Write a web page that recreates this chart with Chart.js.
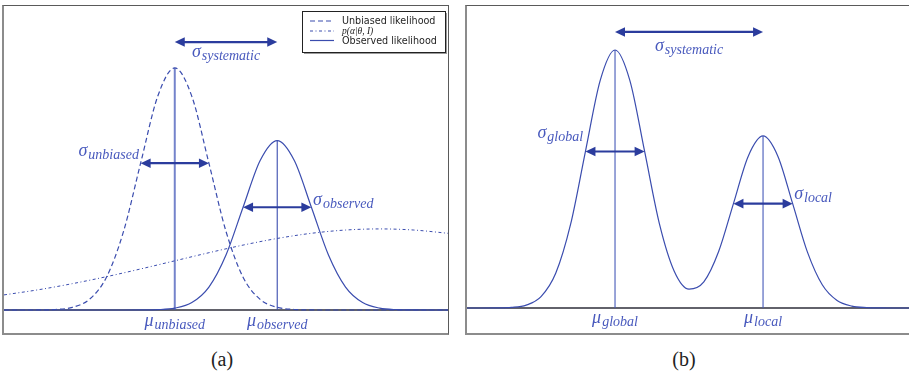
<!DOCTYPE html>
<html>
<head>
<meta charset="utf-8">
<script src="https://cdn.jsdelivr.net/npm/chart.js@4"></script>
<style>
  html, body { margin: 0; padding: 0; background: #fff; overflow: hidden; }
  body { width: 909px; height: 376px; position: relative; }
  .frame {
    position: absolute;
    border-top: 1px solid #5a5a5a;
    border-right: 1px solid #5a5a5a;
    border-left: 2px solid #8c8c8c;
    border-bottom: 2px solid #8c8c8c;
  }
  #frameA { left: 2px; top: 5px; width: 444px; height: 327px; }
  #frameB { left: 465px; top: 5px; width: 442px; height: 327px; }
  canvas { display: block; }
  .caption {
    position: absolute; top: 348px; width: 80px; text-align: center;
    font-family: "Liberation Serif", "Times New Roman", "DejaVu Serif", serif; font-size: 20px; color: #222;
  }
</style>
</head>
<body>
<div class="frame" id="frameA"><canvas id="chartA" width="444" height="327"></canvas></div>
<div class="frame" id="frameB"><canvas id="chartB" width="442" height="327"></canvas></div>
<div class="caption" style="left:182px">(a)</div>
<div class="caption" style="left:644px">(b)</div>
<script>
// ---- Panel (a): unbiased vs observed likelihood, with the prior ----
const xGridA = [0, 0.5, 1, 1.5, 2, 2.5, 3, 3.5, 4, 4.5, 5, 5.5, 6, 6.5, 7, 7.5, 8, 8.5, 9, 9.5, 10, 10.5, 11, 11.5, 12, 12.5, 13];
const unbiasedLikelihood = [0, 0, 0.0003, 0.0022, 0.0111, 0.0439, 0.1353, 0.3247, 0.6065, 0.8825, 1, 0.8825, 0.6065, 0.3247, 0.1353, 0.0439, 0.0111, 0.0022, 0.0003, 0, 0, 0, 0, 0, 0, 0, 0];
const observedLikelihood = [0, 0, 0, 0, 0, 0, 0, 0, 0.0002, 0.0015, 0.0078, 0.0307, 0.0947, 0.2273, 0.4246, 0.6178, 0.70, 0.6178, 0.4246, 0.2273, 0.0947, 0.0307, 0.0078, 0.0015, 0.0002, 0, 0];
const priorX = [0, 1, 2, 3, 4, 5, 6, 7, 8, 9, 10, 11, 12, 13];
const priorDensity = [0.0624, 0.0835, 0.1088, 0.1377, 0.1696, 0.2032, 0.2367, 0.2682, 0.2956, 0.3169, 0.3304, 0.335, 0.3304, 0.3169];
const meansA = [5, 8];
const peaksA = [1, 0.70];
const meanLabelsA = ['unbiased', 'observed'];
const legendLabelsA = ['Unbiased likelihood', 'p(\u03B1|\u03B8, I)', 'Observed likelihood'];

// ---- Panel (b): global and local peaks of one likelihood ----
const xGridB = [0, 0.5, 1, 1.5, 2, 2.5, 3, 3.5, 4, 4.5, 5, 5.5, 6, 6.5, 7, 7.5, 8, 8.5, 9, 9.5, 10, 10.5, 11, 11.5, 12, 12.5, 13, 13.5, 14, 14.5, 15];
const combinedLikelihood = [0, 0, 0.0003, 0.0022, 0.0111, 0.0439, 0.1353, 0.3247, 0.6065, 0.8825, 1, 0.8825, 0.6067, 0.3262, 0.1427, 0.0732, 0.1013, 0.2188, 0.4048, 0.5886, 0.667, 0.5886, 0.4045, 0.2166, 0.0902, 0.0293, 0.0074, 0.0015, 0.0002, 0, 0];
const meansB = [5, 10];
const peaksB = [1, 0.667];
const meanLabelsB = ['global', 'local'];

// Width arrows: [from, to, height]
const arrowsA = [[5, 8, 1.107], [4, 6, 0.6065], [7, 9, 0.4246]];
const arrowsB = [[5, 10, 1.07], [4, 6, 0.6065], [9, 11, 0.4045]];
// Sigma labels: [subscript, x, y, align]
const sigmaLabelsA = [['systematic', 6.5, 1.045, 'center'], ['unbiased', 3.95, 0.636, 'right'], ['observed', 9.05, 0.434, 'left']];
const sigmaLabelsB = [['systematic', 7.5, 0.996, 'center'], ['global', 3.92, 0.659, 'right'], ['local', 11.05, 0.4225, 'left']];

const CURVE = '#3a4cae';
const ARROW = '#2b3c9d';
const LABEL = '#4859bd';
const SERIF = '"Liberation Serif", "Times New Roman", "DejaVu Serif", serif';

function pts(xs, ys) { return xs.map((x, i) => ({ x: x, y: ys[i] })); }

function meanLines(means, peaks, width, color) {
  return means.map((m, i) => ({
    data: [{ x: m, y: 0 }, { x: m, y: peaks[i] }],
    borderColor: color, borderWidth: width, pointRadius: 0, order: 5
  }));
}

function baseline(xmax) {
  return { data: [{ x: 0, y: 0 }, { x: xmax, y: 0 }], borderColor: '#2e2e3a', borderWidth: 1.6, pointRadius: 0, order: 10 };
}

function drawMath(ctx, px, py, base, sub, align) {
  const bigFont = 'italic 18px ' + SERIF;
  const subFont = 'italic 14px ' + SERIF;
  ctx.font = bigFont; const wb = ctx.measureText(base).width;
  ctx.font = subFont; const ws = ctx.measureText(sub).width;
  const total = wb + 1 + ws;
  const x0 = align === 'left' ? px : align === 'right' ? px - total : px - total / 2;
  ctx.textAlign = 'left'; ctx.textBaseline = 'alphabetic';
  ctx.fillStyle = LABEL;
  ctx.font = bigFont; ctx.fillText(base, x0, py);
  ctx.font = subFont; ctx.fillText(sub, x0 + wb + 1, py + 3);
}

function drawArrow(ctx, x1, x2, y) {
  const head = 10, half = 4.8;
  ctx.save();
  ctx.strokeStyle = ARROW; ctx.fillStyle = ARROW; ctx.lineWidth = 2.2;
  ctx.beginPath(); ctx.moveTo(x1 + head - 1, y); ctx.lineTo(x2 - head + 1, y); ctx.stroke();
  ctx.beginPath(); ctx.moveTo(x1, y); ctx.lineTo(x1 + head, y - half); ctx.lineTo(x1 + head, y + half); ctx.closePath(); ctx.fill();
  ctx.beginPath(); ctx.moveTo(x2, y); ctx.lineTo(x2 - head, y - half); ctx.lineTo(x2 - head, y + half); ctx.closePath(); ctx.fill();
  ctx.restore();
}

const annotations = {
  id: 'annotations',
  afterDatasetsDraw(chart, args, opts) {
    const ctx = chart.ctx, sx = chart.scales.x, sy = chart.scales.y;
    ctx.save();
    opts.arrows.forEach(a => drawArrow(ctx, sx.getPixelForValue(a[0]), sx.getPixelForValue(a[1]), sy.getPixelForValue(a[2])));
    opts.sigmas.forEach(s => drawMath(ctx, sx.getPixelForValue(s[1]), sy.getPixelForValue(s[2]), '\u03C3', s[0], s[3]));
    opts.means.forEach((m, i) => drawMath(ctx, sx.getPixelForValue(m), sy.getPixelForValue(opts.meanY), '\u03BC', opts.meanLabels[i], 'center'));
    if (opts.legend) drawLegend(ctx, chart);
    ctx.restore();
  }
};

function drawLegend(ctx, chart) {
  const bx = 298, by = 5, bw = 143, bh = 41;
  ctx.fillStyle = '#9a9a9a';
  ctx.fillRect(bx + 2, by + 2, bw, bh);
  ctx.fillStyle = '#fff';
  ctx.fillRect(bx, by, bw, bh);
  ctx.strokeStyle = '#222'; ctx.lineWidth = 1;
  ctx.strokeRect(bx + 0.5, by + 0.5, bw, bh);
  const rows = [14.5, 24.5, 34];
  const ds = [chart.data.datasets[0], chart.data.datasets[2], chart.data.datasets[1]];
  rows.forEach((ry, i) => {
    ctx.save();
    ctx.strokeStyle = CURVE; ctx.lineWidth = 1.2;
    ctx.setLineDash(ds[i].borderDash || []);
    ctx.beginPath(); ctx.moveTo(306, ry + 0.5); ctx.lineTo(330, ry + 0.5); ctx.stroke();
    ctx.restore();
    ctx.fillStyle = '#1e1e1e'; ctx.textAlign = 'left'; ctx.textBaseline = 'middle';
    ctx.font = i === 1 ? 'italic 9.5px ' + SERIF : '9.6px "DejaVu Sans", sans-serif';
    ctx.fillText(legendLabelsA[i], 338, ry + 1);
  });
}

function baseOptions(xmax, ymin, ymax, annot) {
  return {
    responsive: false, animation: false, devicePixelRatio: 1,
    layout: { padding: 0 },
    elements: { line: { cubicInterpolationMode: 'monotone', fill: false } },
    plugins: { legend: { display: false }, tooltip: { enabled: false }, annotations: annot },
    scales: {
      x: { type: 'linear', min: 0, max: xmax, display: false },
      y: { type: 'linear', min: ymin, max: ymax, display: false }
    }
  };
}

new Chart(document.getElementById('chartA'), {
  type: 'line',
  data: {
    datasets: [
      { label: legendLabelsA[0], data: pts(xGridA, unbiasedLikelihood), borderColor: CURVE, borderWidth: 1.2, borderDash: [5, 3], pointRadius: 0, order: 1 },
      { label: legendLabelsA[2], data: pts(xGridA, observedLikelihood), borderColor: CURVE, borderWidth: 1.2, pointRadius: 0, order: 1 },
      { label: legendLabelsA[1], data: pts(priorX, priorDensity), borderColor: CURVE, borderWidth: 1, borderDash: [3, 2.5, 1, 2.5], pointRadius: 0, order: 2 },
      { data: [{ x: meansA[0], y: 0 }, { x: meansA[0], y: peaksA[0] }], borderColor: 'rgba(70,90,185,0.75)', borderWidth: 2, pointRadius: 0, order: 5 },
      { data: [{ x: meansA[1], y: 0 }, { x: meansA[1], y: peaksA[1] }], borderColor: CURVE, borderWidth: 1.1, pointRadius: 0, order: 5 },
      baseline(13)
    ]
  },
  options: baseOptions(13, -0.095, 1.256, { arrows: arrowsA, sigmas: sigmaLabelsA, means: meansA, meanLabels: meanLabelsA, meanY: -0.066, legend: true }),
  plugins: [annotations]
});

new Chart(document.getElementById('chartB'), {
  type: 'line',
  data: {
    datasets: [
      { data: pts(xGridB, combinedLikelihood), borderColor: CURVE, borderWidth: 1.2, pointRadius: 0, order: 1 },
      ...meanLines(meansB, peaksB, 1.3, 'rgba(70,90,185,0.85)'),
      baseline(15)
    ]
  },
  options: baseOptions(14.93, -0.0969, 1.1705, { arrows: arrowsB, sigmas: sigmaLabelsB, means: meansB, meanLabels: meanLabelsB, meanY: -0.058, legend: false }),
  plugins: [annotations]
});
</script>
</body>
</html>
